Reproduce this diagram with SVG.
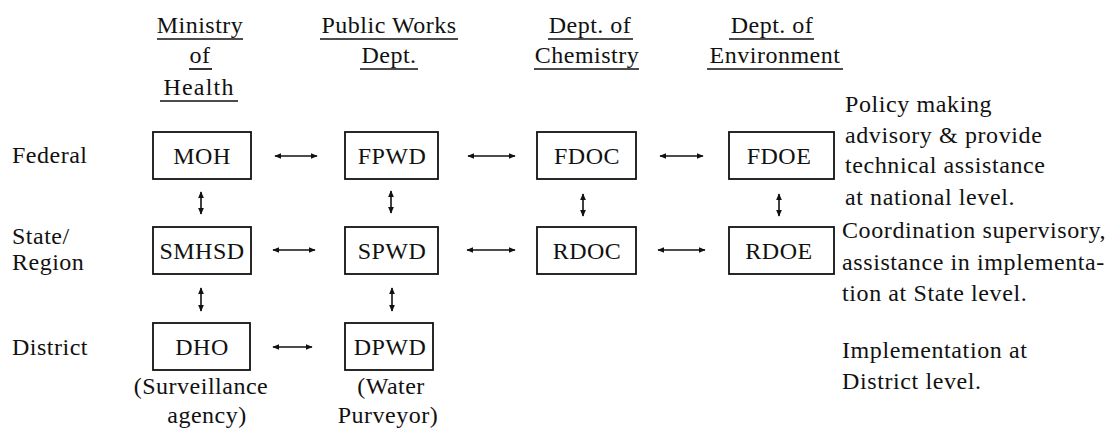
<svg xmlns="http://www.w3.org/2000/svg" width="1117" height="435" viewBox="0 0 1117 435">
<defs>
<marker id="ah" viewBox="0 0 10 10" refX="9" refY="5" markerWidth="7" markerHeight="6" orient="auto-start-reverse" markerUnits="userSpaceOnUse" preserveAspectRatio="none">
<path d="M0,0 L10,5 L0,10 Z" fill="#111"/>
</marker>
</defs>
<style>
text{font-family:"Liberation Serif","Times New Roman",serif;font-size:24px;letter-spacing:0.5px;fill:#111}
.c{text-anchor:middle}
.n{letter-spacing:0.6px}
.ul{stroke:#111;stroke-width:1.7}
rect.b{fill:#fff;stroke:#111;stroke-width:1.8}
.a{stroke:#111;stroke-width:1.6;fill:none;marker-start:url(#ah);marker-end:url(#ah)}
</style>
<rect width="1117" height="435" fill="#fff"/>
<g id="headers">
<text class="c" x="200" y="33">Ministry</text>
<line class="ul" x1="157" y1="39" x2="243" y2="39"/>
<text class="c" x="200" y="63">of</text>
<line class="ul" x1="189" y1="69" x2="212" y2="69"/>
<text class="c" x="199" y="95" style="letter-spacing:1.2px">Health</text>
<line class="ul" x1="160" y1="101" x2="238" y2="101"/>
<text class="c" x="389" y="33">Public Works</text>
<line class="ul" x1="320" y1="39" x2="458" y2="39"/>
<text class="c" x="389" y="63">Dept.</text>
<line class="ul" x1="360" y1="69" x2="418" y2="69"/>
<text class="c" x="590" y="33">Dept. of</text>
<line class="ul" x1="548" y1="39" x2="633" y2="39"/>
<text class="c" x="587" y="63">Chemistry</text>
<line class="ul" x1="534" y1="69" x2="639" y2="69"/>
<text class="c" x="772" y="33">Dept. of</text>
<line class="ul" x1="729" y1="39" x2="814" y2="39"/>
<text class="c" x="775" y="63">Environment</text>
<line class="ul" x1="707" y1="69" x2="843" y2="69"/>
</g>
<g id="levels">
<text x="12" y="163">Federal</text>
<text x="12" y="244">State/</text>
<text x="12" y="270">Region</text>
<text x="12" y="355">District</text>
</g>
<g id="MOH"><rect class="b" x="153" y="132" width="98" height="47"/><text class="c" x="202" y="164">MOH</text></g>
<g id="FPWD"><rect class="b" x="345" y="132" width="93" height="47"/><text class="c" x="392" y="164">FPWD</text></g>
<g id="FDOC"><rect class="b" x="537" y="132" width="99" height="47"/><text class="c" x="587" y="164">FDOC</text></g>
<g id="FDOE"><rect class="b" x="729" y="132" width="105" height="47"/><text class="c" x="779" y="164">FDOE</text></g>
<g id="SMHSD"><rect class="b" x="153" y="227" width="98" height="47"/><text class="c" x="202" y="259">SMHSD</text></g>
<g id="SPWD"><rect class="b" x="345" y="227" width="93" height="47"/><text class="c" x="392" y="259">SPWD</text></g>
<g id="RDOC"><rect class="b" x="537" y="227" width="99" height="47"/><text class="c" x="587" y="259">RDOC</text></g>
<g id="RDOE"><rect class="b" x="729" y="227" width="105" height="47"/><text class="c" x="779" y="259">RDOE</text></g>
<g id="DHO"><rect class="b" x="153" y="323" width="97" height="47"/><text class="c" x="202" y="355">DHO</text>
<text class="c" x="201" y="394">(Surveillance</text><text class="c" x="207" y="423">agency)</text></g>
<g id="DPWD"><rect class="b" x="345" y="323" width="88" height="47"/><text class="c" x="390" y="355">DPWD</text>
<text class="c" x="391" y="394">(Water</text><text class="c" x="388" y="423">Purveyor)</text></g>
<g id="connectors">
<line class="a" x1="275" y1="156" x2="317" y2="156"/>
<line class="a" x1="468" y1="156" x2="515" y2="156"/>
<line class="a" x1="660" y1="156" x2="703" y2="156"/>
<line class="a" x1="273" y1="250" x2="315" y2="250"/>
<line class="a" x1="467" y1="250" x2="515" y2="250"/>
<line class="a" x1="658" y1="250" x2="705" y2="250"/>
<line class="a" x1="273" y1="347" x2="312" y2="347"/>
<line class="a" x1="201" y1="192" x2="201" y2="214"/>
<line class="a" x1="391" y1="191" x2="391" y2="213"/>
<line class="a" x1="583" y1="194" x2="583" y2="216"/>
<line class="a" x1="779" y1="194" x2="779" y2="216"/>
<line class="a" x1="201" y1="288" x2="201" y2="311"/>
<line class="a" x1="392" y1="288" x2="392" y2="311"/>
</g>
<g id="notes">
<text class="n" x="845" y="112">Policy making</text>
<text class="n" x="845" y="143">advisory &amp; provide</text>
<text class="n" x="845" y="173">technical assistance</text>
<text class="n" x="845" y="205">at national level.</text>
<text class="n" x="842" y="238">Coordination supervisory,</text>
<text class="n" x="842" y="270">assistance in implementa-</text>
<text class="n" x="842" y="301">tion at State level.</text>
<text class="n" x="842" y="358">Implementation at</text>
<text class="n" x="842" y="389">District level.</text>
</g>
</svg>
